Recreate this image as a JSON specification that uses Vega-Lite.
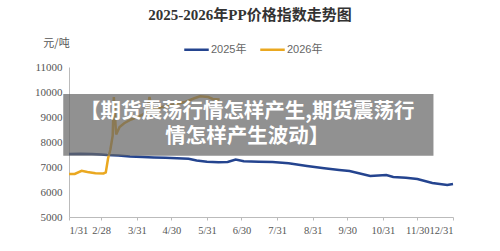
{
  "$schema": "https://vega.github.io/schema/vega-lite/v6.json",
  "width": 384,
  "height": 150,
  "autosize": {"type": "none"},
  "padding": {"left": 69, "top": 67, "right": 47, "bottom": 34},
  "background": "white",
  "title": {
    "text": "2025-2026年PP价格指数走势图",
    "font": "Liberation Serif, Noto Sans CJK SC",
    "fontSize": 15,
    "fontWeight": "bold",
    "color": "#333333",
    "anchor": "middle",
    "frame": "group",
    "dx": -11,
    "offset": 13
  },
  "config": {
    "view": {"stroke": null},
    "axis": {
      "labelFont": "Liberation Serif",
      "labelFontSize": 11,
      "labelColor": "#555555",
      "domainColor": "#bbbbbb",
      "tickColor": "#bbbbbb",
      "grid": false
    },
    "legend": {"labelFont": "Liberation Sans, Noto Sans CJK SC"}
  },
  "encoding": {
    "x": {
      "field": "date",
      "type": "temporal",
      "scale": {"type": "utc", "domain": [{"year": 2025, "month": 1, "date": 31, "utc": true}, {"year": 2025, "month": 12, "date": 31, "utc": true}]},
      "axis": {
        "title": null,
        "format": "%-m/%d",
        "tickSize": 3,
        "labelPadding": 5,
        "labelFontSize": 10.5,
        "labelOverlap": false,
        "values": [
          {"year": 2025, "month": 1, "date": 31, "utc": true},
          {"year": 2025, "month": 2, "date": 28, "utc": true},
          {"year": 2025, "month": 3, "date": 31, "utc": true},
          {"year": 2025, "month": 4, "date": 30, "utc": true},
          {"year": 2025, "month": 5, "date": 31, "utc": true},
          {"year": 2025, "month": 6, "date": 30, "utc": true},
          {"year": 2025, "month": 7, "date": 31, "utc": true},
          {"year": 2025, "month": 8, "date": 31, "utc": true},
          {"year": 2025, "month": 9, "date": 30, "utc": true},
          {"year": 2025, "month": 10, "date": 31, "utc": true},
          {"year": 2025, "month": 11, "date": 30, "utc": true},
          {"year": 2025, "month": 12, "date": 31, "utc": true}
        ]
      }
    },
    "y": {
      "field": "value",
      "type": "quantitative",
      "scale": {"domain": [5000, 11000], "nice": false, "zero": false},
      "axis": {
        "values": [5000, 6000, 7000, 8000, 9000, 10000, 11000],
        "format": "d",
        "tickSize": 0,
        "labelPadding": 7,
        "labelOverlap": false,
        "title": "元/吨",
        "titleAngle": 0,
        "titleX": -13,
        "titleY": -24,
        "titleAlign": "center",
        "titleBaseline": "middle",
        "titleFont": "Noto Sans CJK SC",
        "titleFontSize": 11,
        "titleFontWeight": "normal",
        "titleColor": "#555555"
      }
    }
  },
  "layer": [
    {
      "data": {
        "values": [
          {"date": "2025-01-31", "series": "2025年", "value": 7520},
          {"date": "2025-02-10", "series": "2025年", "value": 7530},
          {"date": "2025-02-20", "series": "2025年", "value": 7520},
          {"date": "2025-02-28", "series": "2025年", "value": 7500},
          {"date": "2025-03-05", "series": "2025年", "value": 7480},
          {"date": "2025-03-15", "series": "2025年", "value": 7460},
          {"date": "2025-03-25", "series": "2025年", "value": 7420},
          {"date": "2025-04-05", "series": "2025年", "value": 7400},
          {"date": "2025-04-15", "series": "2025年", "value": 7380},
          {"date": "2025-04-25", "series": "2025年", "value": 7370},
          {"date": "2025-05-05", "series": "2025年", "value": 7350},
          {"date": "2025-05-15", "series": "2025年", "value": 7330},
          {"date": "2025-05-22", "series": "2025年", "value": 7260},
          {"date": "2025-05-31", "series": "2025年", "value": 7210},
          {"date": "2025-06-10", "series": "2025年", "value": 7190},
          {"date": "2025-06-18", "series": "2025年", "value": 7200},
          {"date": "2025-06-25", "series": "2025年", "value": 7300},
          {"date": "2025-07-02", "series": "2025年", "value": 7230},
          {"date": "2025-07-15", "series": "2025年", "value": 7210},
          {"date": "2025-07-27", "series": "2025年", "value": 7200},
          {"date": "2025-08-10", "series": "2025年", "value": 7150},
          {"date": "2025-08-26", "series": "2025年", "value": 7040},
          {"date": "2025-09-10", "series": "2025年", "value": 6950},
          {"date": "2025-09-23", "series": "2025年", "value": 6880},
          {"date": "2025-10-02", "series": "2025年", "value": 6840},
          {"date": "2025-10-20", "series": "2025年", "value": 6640},
          {"date": "2025-11-03", "series": "2025年", "value": 6680},
          {"date": "2025-11-09", "series": "2025年", "value": 6600},
          {"date": "2025-11-20", "series": "2025年", "value": 6570},
          {"date": "2025-11-30", "series": "2025年", "value": 6520},
          {"date": "2025-12-13", "series": "2025年", "value": 6360},
          {"date": "2025-12-26", "series": "2025年", "value": 6280},
          {"date": "2025-12-31", "series": "2025年", "value": 6320},
          {"date": "2025-01-31", "series": "2026年", "value": 6720},
          {"date": "2025-02-05", "series": "2026年", "value": 6720},
          {"date": "2025-02-11", "series": "2026年", "value": 6850},
          {"date": "2025-02-16", "series": "2026年", "value": 6800},
          {"date": "2025-02-23", "series": "2026年", "value": 6750},
          {"date": "2025-03-02", "series": "2026年", "value": 6740},
          {"date": "2025-03-04", "series": "2026年", "value": 6780},
          {"date": "2025-03-06", "series": "2026年", "value": 7350},
          {"date": "2025-03-08", "series": "2026年", "value": 7700},
          {"date": "2025-03-10", "series": "2026年", "value": 8250},
          {"date": "2025-03-11", "series": "2026年", "value": 9800},
          {"date": "2025-03-13", "series": "2026年", "value": 8300},
          {"date": "2025-03-16", "series": "2026年", "value": 8600},
          {"date": "2025-03-20", "series": "2026年", "value": 8750},
          {"date": "2025-03-26", "series": "2026年", "value": 8900},
          {"date": "2025-04-03", "series": "2026年", "value": 9050},
          {"date": "2025-04-09", "series": "2026年", "value": 9200},
          {"date": "2025-04-11", "series": "2026年", "value": 9800},
          {"date": "2025-04-13", "series": "2026年", "value": 9300},
          {"date": "2025-04-22", "series": "2026年", "value": 9400},
          {"date": "2025-05-02", "series": "2026年", "value": 9500},
          {"date": "2025-05-12", "series": "2026年", "value": 9600},
          {"date": "2025-05-20", "series": "2026年", "value": 9750},
          {"date": "2025-05-25", "series": "2026年", "value": 9830},
          {"date": "2025-06-01", "series": "2026年", "value": 9800},
          {"date": "2025-06-05", "series": "2026年", "value": 9720},
          {"date": "2025-06-11", "series": "2026年", "value": 9700}
        ]
      },
      "mark": {"type": "line", "strokeWidth": 2.5, "interpolate": "linear"},
      "encoding": {
        "color": {
          "field": "series",
          "type": "nominal",
          "scale": {"domain": ["2025年", "2026年"], "range": ["#24448f", "#eaa820"]},
          "legend": {
            "title": null,
            "orient": "none",
            "legendX": 114,
            "legendY": -31,
            "direction": "horizontal",
            "symbolType": "stroke",
            "symbolSize": 600,
            "symbolStrokeWidth": 2.5,
            "labelFontSize": 11,
            "labelColor": "#666666",
            "labelOffset": 1,
            "columnPadding": 8
          }
        }
      }
    },
    {
      "data": {"values": [{"date": "2025-01-26T00:00:00Z", "date2": "2025-12-14T00:00:00Z", "value": 9922, "value2": 7447}]},
      "mark": {"type": "rect", "color": "#676767", "opacity": 0.72},
      "encoding": {
        "x2": {"field": "date2"},
        "y2": {"field": "value2"}
      }
    },
    {
      "data": {"values": [
        {"date": "2025-07-05T00:00:00Z", "value": 9204, "label": "【期货震荡行情怎样产生,期货震荡行"},
        {"date": "2025-07-05T00:00:00Z", "value": 8206, "label": "情怎样产生波动】"}
      ]},
      "mark": {"type": "text", "font": "Noto Sans CJK SC", "fontWeight": "bold", "fontSize": 20.5, "color": "white", "align": "center", "baseline": "middle"},
      "encoding": {
        "text": {"field": "label"}
      }
    }
  ]
}
